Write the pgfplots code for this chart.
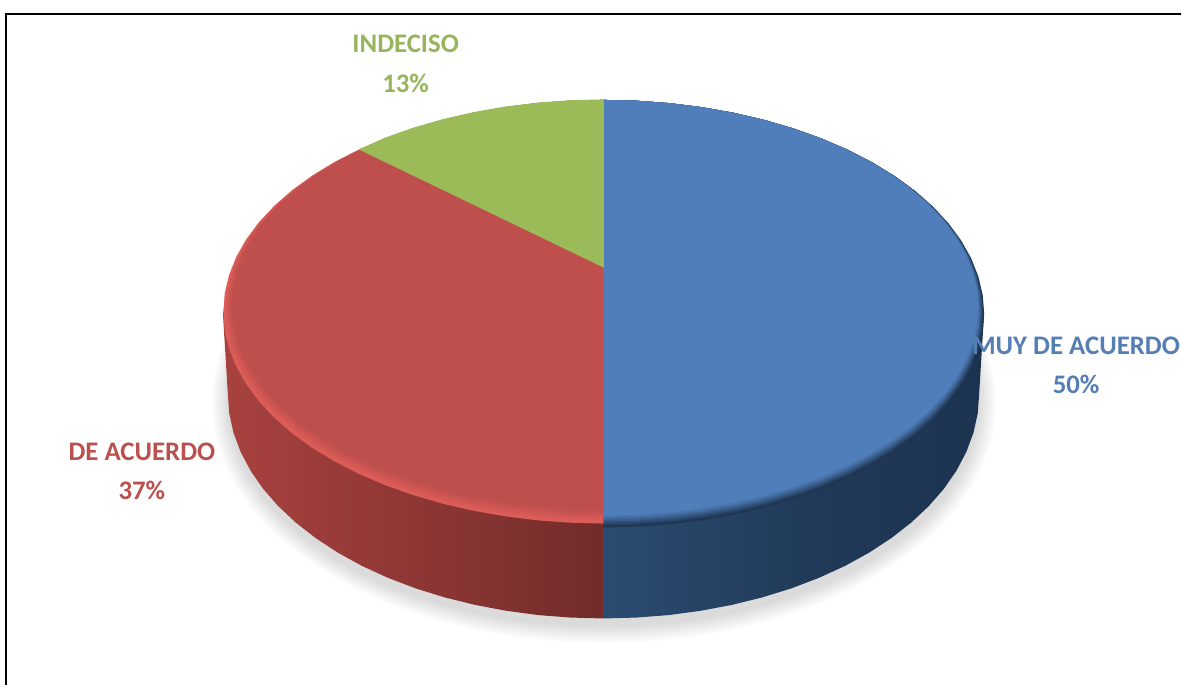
\documentclass[border=0pt]{standalone}
\usepackage{pgfplots}
\usepackage{pgfplotstable}
\usepackage{fontspec}
\setmainfont{Carlito}
\pgfplotsset{compat=1.18}
% unit-circle outlines (s = sin t, c = cos t)
\pgfplotstableread{
s c
0 1
0.0872 0.9962
0.1736 0.9848
0.2588 0.9659
0.3420 0.9397
0.4226 0.9063
0.5 0.8660
0.5736 0.8192
0.6428 0.7660
0.7071 0.7071
0.7660 0.6428
0.8192 0.5736
0.8660 0.5
0.9063 0.4226
0.9397 0.3420
0.9659 0.2588
0.9848 0.1736
0.9962 0.0872
1 0
0.9962 -0.0872
0.9848 -0.1736
0.9659 -0.2588
0.9397 -0.3420
0.9063 -0.4226
0.8660 -0.5
0.8192 -0.5736
0.7660 -0.6428
0.7071 -0.7071
0.6428 -0.7660
0.5736 -0.8192
0.5 -0.8660
0.4226 -0.9063
0.3420 -0.9397
0.2588 -0.9659
0.1736 -0.9848
0.0872 -0.9962
0 -1
}\rightarc
\pgfplotstableread{
s c
0 -1
-0.0872 -0.9962
-0.1736 -0.9848
-0.2588 -0.9659
-0.3420 -0.9397
-0.4226 -0.9063
-0.5 -0.8660
-0.5736 -0.8192
-0.6428 -0.7660
-0.7071 -0.7071
-0.7660 -0.6428
-0.8192 -0.5736
-0.8660 -0.5
-0.9063 -0.4226
-0.9397 -0.3420
-0.9659 -0.2588
-0.9848 -0.1736
-0.9962 -0.0872
-1 0
-0.9962 0.0872
-0.9848 0.1736
-0.9659 0.2588
-0.9397 0.3420
-0.9063 0.4226
-0.8660 0.5
-0.8192 0.5736
-0.7660 0.6428
-0.7071 0.7071
-0.6428 0.7660
-0.5736 0.8192
-0.5 0.8660
-0.4226 0.9063
-0.3420 0.9397
-0.2588 0.9659
-0.1736 0.9848
-0.0872 0.9962
0 1
}\leftarc
% INDECISO wedge on the top face: apex, rim point, rim to the top
\pgfplotstableread{
x y
604.5 268
359.1 149.6
385.3 137.8
413.3 127.9
442.8 119.4
473.5 112.3
505.2 106.7
537.7 102.7
570.6 100.3
604.5 99.5
}\greenwedge
\pgfplotstableread{
x y
604 619
571.2 618.1
538.7 615.6
506.7 611.3
475.4 605.4
445.1 597.9
416 588.9
388.3 578.3
362.3 566.4
338.1 553.1
316 538.6
296 523
278.4 506.5
263.2 489.1
250.7 471
240.8 452.2
233.7 433.1
229.4 413.6
228 394
223 312
604 312
}\redwall
\pgfplotstableread{
x y
604 619
636.8 618.1
669.3 615.6
701.3 611.3
732.6 605.4
762.9 597.9
792 588.9
819.7 578.3
845.7 566.4
869.9 553.1
892 538.6
912 523
929.6 506.5
944.8 489.1
957.3 471
967.2 452.2
974.3 433.1
978.6 413.6
980 394
985 312
604 312
}\bluewall
\definecolor{blueface}{HTML}{4F7EBA}
\definecolor{redface}{HTML}{BE4F4C}
\definecolor{greenface}{HTML}{9BBB59}
\definecolor{redrim}{HTML}{DC5C58}
\definecolor{bluerim}{HTML}{1F3552}
\definecolor{wra}{HTML}{A8423F}
\definecolor{wrb}{HTML}{8E3735}
\definecolor{wrc}{HTML}{722C2A}
\definecolor{wbd}{HTML}{2B4C72}
\definecolor{wbe}{HTML}{223B5A}
\definecolor{wbf}{HTML}{1C3350}
\pgfdeclarehorizontalshading{redwallshade}{100bp}{
  color(0bp)=(wra);
  color(25bp)=(wra);
  color(50bp)=(wrb);
  color(75bp)=(wrc);
  color(100bp)=(wrc)}
\pgfdeclarehorizontalshading{bluewallshade}{100bp}{
  color(0bp)=(wbd);
  color(25bp)=(wbd);
  color(50bp)=(wbe);
  color(75bp)=(wbf);
  color(100bp)=(wbf)}
\newcommand{\ellpart}[5]{% colour, table, rx, cy, ry
  \addplot[fill=#1,draw=none] table[x expr={604+#3*\thisrow{s}},y expr={#4-#5*\thisrow{c}}] {#2} --cycle;}
\newcommand{\shadowlayer}[3]{% rx, cy, ry
  \addplot[fill=black,fill opacity=0.012,draw=none] table[x expr={604.5+#1*\thisrow{s}},y expr={#2-#3*\thisrow{c}}] {\rightarc} --cycle;
  \addplot[fill=black,fill opacity=0.012,draw=none] table[x expr={604.5+#1*\thisrow{s}},y expr={#2-#3*\thisrow{c}}] {\leftarc} --cycle;}
\tikzset{lbl/.style={font=\fontsize{26.8}{30}\selectfont\bfseries,inner sep=0pt,anchor=center}}
\begin{document}
\begin{tikzpicture}
\begin{axis}[
  scale only axis,width=1182pt,height=686pt,
  xmin=0,xmax=1182,ymin=0,ymax=686,y dir=reverse,
  hide axis,clip=false,
]
\path (axis cs:0,0) (axis cs:1182,686);
% shadow
\shadowlayer{393}{403}{241}
\shadowlayer{391.5}{403}{239.5}
\shadowlayer{390}{403}{238}
\shadowlayer{388.5}{403}{236.5}
\shadowlayer{387}{403}{235}
\shadowlayer{385.5}{403}{233.5}
\shadowlayer{384}{403}{232}
\shadowlayer{382.5}{403}{230.5}
\shadowlayer{381}{403}{229}
\shadowlayer{379.5}{403}{227.5}
\shadowlayer{378}{403}{226}
\shadowlayer{376.5}{403}{224.5}
% walls
\addplot[shading=redwallshade,draw=none] table[x=x,y=y] {\redwall} --cycle;
\addplot[shading=bluewallshade,draw=none] table[x=x,y=y] {\bluewall} --cycle;
% blue face, rim fading into the face
\ellpart{bluerim}{\rightarc}{381}{314}{214}
\ellpart{bluerim!85!blueface}{\rightarc}{380}{313}{213}
\ellpart{bluerim!65!blueface}{\rightarc}{379}{312}{212}
\ellpart{bluerim!45!blueface}{\rightarc}{378}{311}{211}
\ellpart{bluerim!28!blueface}{\rightarc}{377}{310}{210}
\ellpart{bluerim!12!blueface}{\rightarc}{376}{309}{209}
\ellpart{blueface}{\rightarc}{375}{308}{208}
% red face, lighter rim
\ellpart{redrim}{\leftarc}{380.5}{312}{212}
\ellpart{redrim!75!redface}{\leftarc}{378}{310}{210}
\ellpart{redrim!50!redface}{\leftarc}{376}{308.5}{208.5}
\ellpart{redrim!25!redface}{\leftarc}{374}{307}{207}
\ellpart{redface}{\leftarc}{372}{305.5}{205.5}
% green wedge
\addplot[fill=greenface,draw=none] table[x=x,y=y] {\greenwedge} --cycle;
% frame
\addplot[black,line width=2pt] coordinates {(6.5,686) (6.5,14.5) (1182,14.5)};
% labels
\node[lbl,text=greenface!90!gray] at (axis cs:406,44) {INDECISO};
\node[lbl,text=greenface!90!gray] at (axis cs:406,83) {13\%};
\node[lbl,text=redface!95!gray] at (axis cs:142,452) {DE ACUERDO};
\node[lbl,text=redface!95!gray] at (axis cs:142,491) {37\%};
\node[lbl,text=blueface!90!gray] at (axis cs:1077,346) {MUY DE ACUERDO};
\node[lbl,text=blueface!90!gray] at (axis cs:1077,385) {50\%};
\end{axis}
\end{tikzpicture}
\end{document}
